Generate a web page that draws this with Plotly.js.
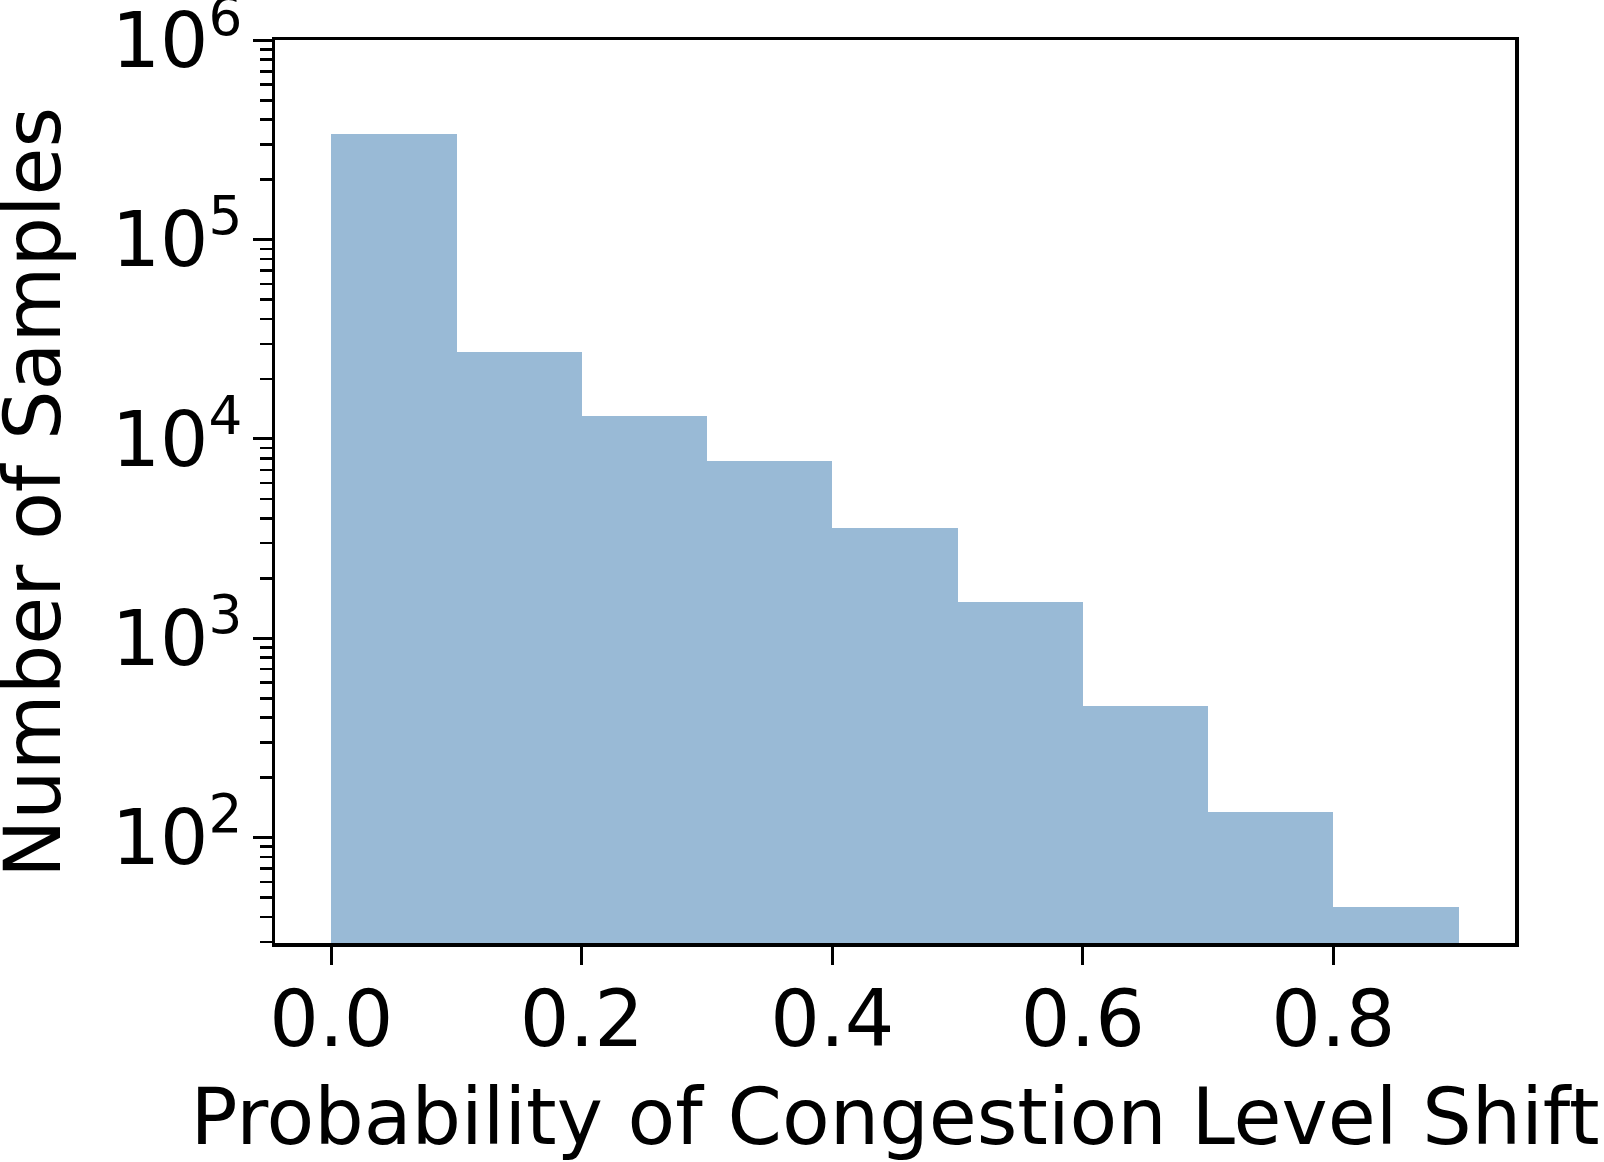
<!DOCTYPE html>
<html>
<head>
<meta charset="utf-8">
<script src="https://cdn.plot.ly/plotly-3.0.1.min.js"></script>
<style>
  html, body { margin: 0; padding: 0; background: #ffffff; }
  #chart { width: 1604px; height: 1162px; }
</style>
</head>
<body>
<div id="chart"></div>
<script>
// Histogram bin edges (probability of congestion level shift)
const binEdges = [0.0, 0.1, 0.2, 0.3, 0.4, 0.5, 0.6, 0.7, 0.8, 0.9];
// Number of samples per bin
const sampleCounts = [338000, 27200, 12980, 7780, 3560, 1515, 455, 134, 45];
// Axis tick values and labels
const xTickValues = [0.0, 0.2, 0.4, 0.6, 0.8];
const xTickLabels = ["0.0", "0.2", "0.4", "0.6", "0.8"];
const yTickValues = [1e2, 1e3, 1e4, 1e5, 1e6];
const yTickLabels = ["10<sup>2</sup>", "10<sup>3</sup>", "10<sup>4</sup>", "10<sup>5</sup>", "10<sup>6</sup>"];
const xTitle = "Probability of Congestion Level Shift";
const yTitle = "Number of Samples";

const binCenters = sampleCounts.map((_, i) => (binEdges[i] + binEdges[i + 1]) / 2);
const binWidths = sampleCounts.map((_, i) => binEdges[i + 1] - binEdges[i]);

const FONT = "DejaVu Sans";
const W = 1604, H = 1162;
const M = { l: 275, r: 89, t: 40, b: 219 };
const plotW = W - M.l - M.r;
const plotH = H - M.t - M.b;

const trace = {
  type: "bar",
  x: binCenters,
  y: sampleCounts,
  width: binWidths,
  marker: { color: "rgba(70,130,180,0.55)", line: { width: 0 } },
  hoverinfo: "x+y",
  showlegend: false
};

const layout = {
  width: W,
  height: H,
  margin: { l: M.l, r: M.r, t: M.t, b: M.b, pad: 0 },
  paper_bgcolor: "#ffffff",
  plot_bgcolor: "#ffffff",
  font: { family: FONT, color: "#000000", size: 78 },
  bargap: 0,
  xaxis: {
    range: [-0.045, 0.945],
    tickvals: xTickValues,
    ticktext: xTickLabels,
    ticks: "outside",
    ticklen: 18,
    tickwidth: 3,
    tickcolor: "#000000",
    ticklabelstandoff: -12,
    tickfont: { family: FONT, size: 78, color: "#000000" },
    showgrid: false,
    zeroline: false,
    showline: true,
    linecolor: "#000000",
    linewidth: 3.5,
    mirror: true,
    title: { text: xTitle, font: { family: FONT, size: 78, color: "#000000" }, standoff: 36 }
  },
  yaxis: {
    type: "log",
    range: [1.471, 6.002],
    tickvals: yTickValues,
    ticktext: yTickLabels,
    ticks: "outside",
    ticklen: 19,
    tickwidth: 3,
    tickcolor: "#000000",
    ticklabelstandoff: -5,
    ticklabeloverflow: "allow",
    tickfont: { family: FONT, size: 76, color: "#000000" },
    minor: { ticks: "outside", ticklen: 12, tickwidth: 2.5, tickcolor: "#000000", dtick: "D1", showgrid: false },
    showgrid: false,
    zeroline: false,
    showline: true,
    linecolor: "#000000",
    linewidth: 3.5,
    mirror: true
  },
  annotations: [{
    text: yTitle,
    textangle: -90,
    xref: "paper",
    yref: "paper",
    x: (33 - M.l) / plotW,
    y: 1 - (493 - M.t) / plotH,
    xanchor: "center",
    yanchor: "middle",
    showarrow: false,
    font: { family: FONT, size: 78, color: "#000000" }
  }]
};

Plotly.newPlot("chart", [trace], layout, { displayModeBar: false, staticPlot: true });
</script>
</body>
</html>
